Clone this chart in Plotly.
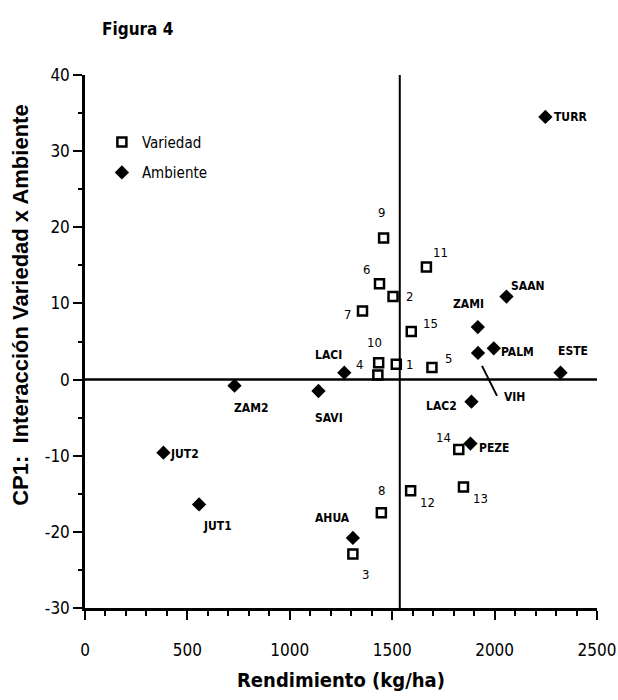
import plotly.graph_objects as go

# ---------------- data ----------------
var_labels = ["1", "2", "3", "4", "5", "6", "7", "8", "9", "10", "11", "12", "13", "14", "15"]
var_x = [1520, 1504, 1308, 1430, 1694, 1438, 1355, 1447, 1458, 1434, 1667, 1590, 1848, 1825, 1593]
var_y = [2.0, 10.9, -22.9, 0.6, 1.6, 12.6, 9.0, -17.5, 18.6, 2.2, 14.8, -14.6, -14.1, -9.2, 6.3]

amb_labels = ["TURR", "SAAN", "ZAMI", "PALM", "VIH", "ESTE", "LAC2", "PEZE",
              "LACI", "ZAM2", "SAVI", "JUT2", "JUT1", "AHUA"]
amb_x = [2248, 2058, 1918, 1996, 1919, 2322, 1887, 1882, 1266, 730, 1140, 383, 557, 1308]
amb_y = [34.5, 10.9, 6.9, 4.1, 3.5, 0.9, -2.9, -8.4, 0.9, -0.8, -1.5, -9.6, -16.4, -20.8]

mean_yield = 1537  # vertical reference line (mean yield)

x_ticks = [0, 500, 1000, 1500, 2000, 2500]
y_ticks = [-30, -20, -10, 0, 10, 20, 30, 40]

# ---------------- label placement (style, pixel offsets) ----------------
var_off = {
    "1": (13, 0), "2": (16, 0), "3": (13, -21), "4": (-18, 11), "5": (17, 9),
    "6": (-13, 14), "7": (-15, -3), "8": (0, 22), "9": (-2, 25), "10": (-4, 20),
    "11": (14, 14), "12": (17, -12), "13": (17, -12), "14": (-15, 12), "15": (19, 8),
}
amb_off = {
    "TURR": (25, 0), "SAAN": (22, 11), "ZAMI": (-9, 23), "PALM": (24, -4),
    "VIH": (36, -44), "ESTE": (12, 22), "LAC2": (-30, -4), "PEZE": (24, -4),
    "LACI": (-16, 18), "ZAM2": (16, -22), "SAVI": (11, -27), "JUT2": (21, -1),
    "JUT1": (18, -22), "AHUA": (-20, 20),
}

NARROW = "DejaVu Sans Condensed, Liberation Sans Narrow, Arial Narrow, sans-serif"
BOLD = "Liberation Sans, Arial, sans-serif"

fig = go.Figure()
fig.add_trace(go.Scatter(
    x=var_x, y=var_y, mode="markers", name="Variedad",
    marker=dict(symbol="square", size=9, color="white", line=dict(color="black", width=2.5)),
    legendgroup="a",
))
fig.add_trace(go.Scatter(
    x=amb_x, y=amb_y, mode="markers", name="Ambiente",
    marker=dict(symbol="diamond", size=11, color="black", line=dict(width=0)),
    legendgroup="b",
))

ann = []
for lab, x, y in zip(var_labels, var_x, var_y):
    dx, dy = var_off[lab]
    ann.append(dict(x=x, y=y, text=lab, showarrow=False, xshift=dx, yshift=dy,
                    xanchor="center", yanchor="middle",
                    font=dict(family=NARROW, size=13, color="black")))
for lab, x, y in zip(amb_labels, amb_x, amb_y):
    dx, dy = amb_off[lab]
    ann.append(dict(x=x, y=y, text="<b>" + lab + "</b>", showarrow=False, xshift=dx, yshift=dy,
                    xanchor="center", yanchor="middle",
                    font=dict(family=NARROW, size=12, color="black")))

# axis titles and figure label
ann.append(dict(xref="paper", yref="paper", x=-0.125, y=0.567, textangle=-90,
                xanchor="center", yanchor="middle",
                text="<b>CP1:  Interacción Variedad x Ambiente</b>", showarrow=False,
                font=dict(family=BOLD, size=22, color="black")))
ann.append(dict(xref="paper", yref="paper", x=0.5, y=-0.135,
                xanchor="center", yanchor="middle",
                text="<b>Rendimiento (kg/ha)</b>", showarrow=False,
                font=dict(family=NARROW, size=20, color="black")))
ann.append(dict(xref="paper", yref="paper", x=0.029, y=1.086,
                xanchor="left", yanchor="middle",
                text="<b>Figura 4</b>", showarrow=False,
                font=dict(family=NARROW, size=17, color="black")))

shapes = [
    dict(type="line", xref="x", yref="paper", x0=mean_yield, x1=mean_yield, y0=0, y1=1,
         line=dict(color="black", width=2)),
    dict(type="line", xref="paper", yref="y", x0=0, x1=1, y0=0, y1=0,
         line=dict(color="black", width=2.5)),
    # leader line for VIH
    dict(type="line", xref="x", yref="y", xsizemode="pixel", ysizemode="pixel",
         xanchor=amb_x[amb_labels.index("VIH")], yanchor=amb_y[amb_labels.index("VIH")],
         x0=4, y0=-13, x1=19, y1=-43, line=dict(color="black", width=2)),
]

fig.update_layout(
    width=618, height=700,
    margin=dict(l=85, r=21, t=75, b=92, autoexpand=False),
    plot_bgcolor="white", paper_bgcolor="white",
    showlegend=True,
    legend=dict(x=0.033, y=0.905, xanchor="left", yanchor="top",
                font=dict(family=NARROW, size=15, color="black"),
                traceorder="grouped", tracegroupgap=8, bgcolor="rgba(0,0,0,0)"),
    annotations=ann,
    shapes=shapes,
)
fig.update_xaxes(
    range=[0, 2500], tickvals=x_ticks, ticktext=[str(v) for v in x_ticks],
    showline=True, linecolor="black", linewidth=2.5, mirror=False,
    ticks="outside", ticklen=9, tickwidth=2, tickcolor="black",
    minor=dict(dtick=100, ticks="outside", ticklen=5, tickwidth=2, tickcolor="black"),
    showgrid=False, zeroline=False, automargin=False,
    tickfont=dict(family=NARROW, size=17, color="black"),
    ticklabelstandoff=16,
)
fig.update_yaxes(
    range=[-30, 40], tickvals=y_ticks, ticktext=[str(v) for v in y_ticks],
    showline=True, linecolor="black", linewidth=2.5, mirror=False,
    ticks="outside", ticklen=9, tickwidth=2, tickcolor="black",
    minor=dict(dtick=5, ticks="outside", ticklen=4, tickwidth=2, tickcolor="black"),
    showgrid=False, zeroline=False, automargin=False,
    tickfont=dict(family=NARROW, size=17, color="black"),
)

fig.write_html("out.html",
               config={"displayModeBar": False},
               post_script="document.body.style.margin='0px';document.body.style.overflow='hidden';")
